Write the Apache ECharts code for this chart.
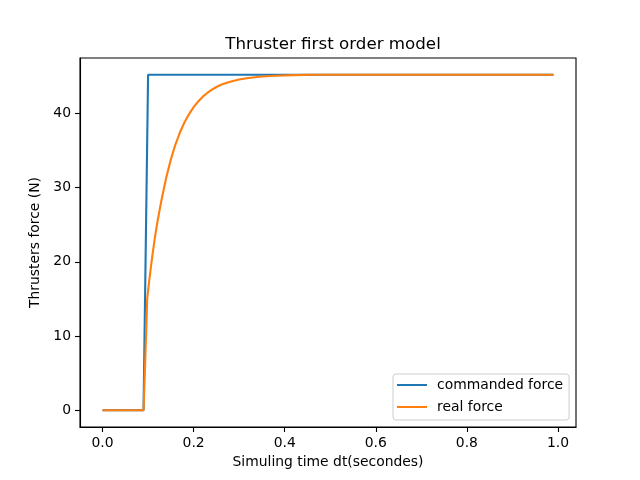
<!DOCTYPE html>
<html>
<head>
<meta charset="utf-8">
<script src="https://cdn.jsdelivr.net/npm/echarts@6/dist/echarts.min.js"></script>
<style>
  html, body { margin: 0; padding: 0; background: #fff; }
  #chart { width: 640px; height: 480px; }
</style>
</head>
<body>
<div id="chart"></div>
<script>
// valeurs
const commandTimes = [0, 0.09, 0.10, 0.99];
const commandForce = [0, 0, 45.2, 45.2];

const realTimes = [0, 0.09, 0.096, 0.098, 0.102, 0.106, 0.11, 0.115, 0.12, 0.125,
  0.13, 0.14, 0.15, 0.16, 0.17, 0.18, 0.19, 0.20, 0.21, 0.22, 0.23, 0.24, 0.25,
  0.26, 0.28, 0.30, 0.32, 0.35, 0.38, 0.42, 0.46, 0.99];
const realForce = [0, 0, 10.8, 15.0, 17.2, 19.2, 21.1, 23.3, 25.2, 26.9,
  28.5, 31.4, 33.8, 35.8, 37.45, 38.8, 39.9, 40.85, 41.6, 42.25, 42.75, 43.2, 43.55,
  43.85, 44.27, 44.57, 44.77, 44.96, 45.07, 45.15, 45.2, 45.2];

const xTicks = [0, 0.2, 0.4, 0.6, 0.8, 1.0];
const yTicks = [0, 10, 20, 30, 40];

const font = 'DejaVu Sans';
const zip = (a, b) => a.map((v, i) => [v, b[i]]);

let chart = echarts.init(document.getElementById('chart'));

chart.setOption({
  animation: false,
  textStyle: { fontFamily: font },
  title: {
    text: 'Thruster first order model',
    left: 328, top: 31, textAlign: 'center',
    textStyle: { fontFamily: font, fontSize: 16.7, fontWeight: 'normal', color: '#000' }
  },
  grid: {
    left: 80, right: 64, top: 58, bottom: 53,
    show: true, borderColor: '#000', borderWidth: 1.1, backgroundColor: 'transparent'
  },
  legend: {
    left: 393, top: 374,
    orient: 'vertical',
    icon: 'rect', itemWidth: 30, itemHeight: 2, itemGap: 8,
    padding: [4, 6, 6, 4],
    backgroundColor: 'rgba(255,255,255,0.8)',
    borderColor: '#cccccc', borderWidth: 1, borderRadius: 3,
    textStyle: { fontFamily: font, fontSize: 13.9, color: '#000', padding: [0, 0, 0, 5] },
    data: ['commanded force', 'real force']
  },
  xAxis: {
    type: 'value', min: -0.0495, max: 1.0395,
    name: 'Simuling time dt(secondes)', nameLocation: 'middle', nameGap: 27,
    nameTextStyle: { fontFamily: font, fontSize: 13.9, color: '#000' },
    axisLine: { show: true, onZero: false, lineStyle: { color: '#000', width: 1.1 } },
    axisTick: { show: true, customValues: xTicks, length: 5, lineStyle: { color: '#000', width: 1.1 } },
    axisLabel: {
      customValues: xTicks, margin: 9, color: '#000', fontSize: 13.9, fontFamily: font,
      formatter: v => v.toFixed(1)
    },
    splitLine: { show: false }
  },
  yAxis: {
    type: 'value', min: -2.26, max: 47.46,
    name: 'Thrusters force (N)', nameLocation: 'middle', nameGap: 35, nameRotate: 90,
    nameTextStyle: { fontFamily: font, fontSize: 13.9, color: '#000' },
    axisLine: { show: true, onZero: false, lineStyle: { color: '#000', width: 1.1 } },
    axisTick: { show: true, customValues: yTicks, length: 5, lineStyle: { color: '#000', width: 1.1 } },
    axisLabel: {
      customValues: yTicks, margin: 9, color: '#000', fontSize: 13.9, fontFamily: font,
      formatter: v => String(v)
    },
    splitLine: { show: false }
  },
  series: [
    {
      name: 'commanded force', type: 'line', data: zip(commandTimes, commandForce),
      showSymbol: false, symbol: 'none', color: '#1f77b4',
      lineStyle: { width: 2.1, color: '#1f77b4' }
    },
    {
      name: 'real force', type: 'line', data: zip(realTimes, realForce),
      showSymbol: false, symbol: 'none', color: '#ff7f0e',
      lineStyle: { width: 2.1, color: '#ff7f0e' }
    }
  ]
});
</script>
</body>
</html>
